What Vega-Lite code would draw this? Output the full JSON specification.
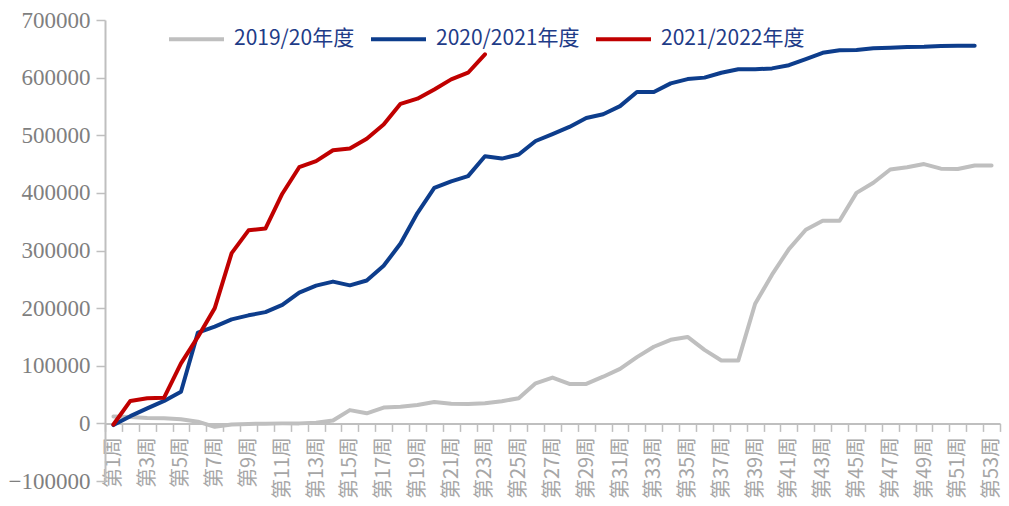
{
  "$schema": "https://vega.github.io/schema/vega-lite/v6.json",
  "width": 895,
  "height": 461,
  "autosize": {"type": "none"},
  "padding": {"left": 105, "top": 20, "right": 9, "bottom": 25},
  "background": "white",
  "config": {"view": {"stroke": null}},
  "data": {"values": [
    {"season": "2019/20年度", "week": 1, "value": 12000},
    {"season": "2019/20年度", "week": 2, "value": 11000},
    {"season": "2019/20年度", "week": 3, "value": 9500},
    {"season": "2019/20年度", "week": 4, "value": 9000},
    {"season": "2019/20年度", "week": 5, "value": 7000},
    {"season": "2019/20年度", "week": 6, "value": 3000},
    {"season": "2019/20年度", "week": 7, "value": -6000},
    {"season": "2019/20年度", "week": 8, "value": -2000},
    {"season": "2019/20年度", "week": 9, "value": -1000},
    {"season": "2019/20年度", "week": 10, "value": -500},
    {"season": "2019/20年度", "week": 11, "value": 0},
    {"season": "2019/20年度", "week": 12, "value": 0},
    {"season": "2019/20年度", "week": 13, "value": 1000},
    {"season": "2019/20年度", "week": 14, "value": 5000},
    {"season": "2019/20年度", "week": 15, "value": 23000},
    {"season": "2019/20年度", "week": 16, "value": 17500},
    {"season": "2019/20年度", "week": 17, "value": 27500},
    {"season": "2019/20年度", "week": 18, "value": 29000},
    {"season": "2019/20年度", "week": 19, "value": 32000},
    {"season": "2019/20年度", "week": 20, "value": 37000},
    {"season": "2019/20年度", "week": 21, "value": 34000},
    {"season": "2019/20年度", "week": 22, "value": 33500},
    {"season": "2019/20年度", "week": 23, "value": 35000},
    {"season": "2019/20年度", "week": 24, "value": 38500},
    {"season": "2019/20年度", "week": 25, "value": 43500},
    {"season": "2019/20年度", "week": 26, "value": 69500},
    {"season": "2019/20年度", "week": 27, "value": 79500},
    {"season": "2019/20年度", "week": 28, "value": 68500},
    {"season": "2019/20年度", "week": 29, "value": 68500},
    {"season": "2019/20年度", "week": 30, "value": 81000},
    {"season": "2019/20年度", "week": 31, "value": 94500},
    {"season": "2019/20年度", "week": 32, "value": 115000},
    {"season": "2019/20年度", "week": 33, "value": 133000},
    {"season": "2019/20年度", "week": 34, "value": 145000},
    {"season": "2019/20年度", "week": 35, "value": 150000},
    {"season": "2019/20年度", "week": 36, "value": 127500},
    {"season": "2019/20年度", "week": 37, "value": 109000},
    {"season": "2019/20年度", "week": 38, "value": 109000},
    {"season": "2019/20年度", "week": 39, "value": 207500},
    {"season": "2019/20年度", "week": 40, "value": 258000},
    {"season": "2019/20年度", "week": 41, "value": 302500},
    {"season": "2019/20年度", "week": 42, "value": 336000},
    {"season": "2019/20年度", "week": 43, "value": 351500},
    {"season": "2019/20年度", "week": 44, "value": 351500},
    {"season": "2019/20年度", "week": 45, "value": 400000},
    {"season": "2019/20年度", "week": 46, "value": 417500},
    {"season": "2019/20年度", "week": 47, "value": 440500},
    {"season": "2019/20年度", "week": 48, "value": 444500},
    {"season": "2019/20年度", "week": 49, "value": 450000},
    {"season": "2019/20年度", "week": 50, "value": 442000},
    {"season": "2019/20年度", "week": 51, "value": 441500},
    {"season": "2019/20年度", "week": 52, "value": 447500},
    {"season": "2019/20年度", "week": 53, "value": 447500},
    {"season": "2020/2021年度", "week": 1, "value": -3000},
    {"season": "2020/2021年度", "week": 2, "value": 12500},
    {"season": "2020/2021年度", "week": 3, "value": 26000},
    {"season": "2020/2021年度", "week": 4, "value": 39000},
    {"season": "2020/2021年度", "week": 5, "value": 55000},
    {"season": "2020/2021年度", "week": 6, "value": 157500},
    {"season": "2020/2021年度", "week": 7, "value": 168000},
    {"season": "2020/2021年度", "week": 8, "value": 180500},
    {"season": "2020/2021年度", "week": 9, "value": 187500},
    {"season": "2020/2021年度", "week": 10, "value": 193000},
    {"season": "2020/2021年度", "week": 11, "value": 205500},
    {"season": "2020/2021年度", "week": 12, "value": 227000},
    {"season": "2020/2021年度", "week": 13, "value": 239000},
    {"season": "2020/2021年度", "week": 14, "value": 246000},
    {"season": "2020/2021年度", "week": 15, "value": 239500},
    {"season": "2020/2021年度", "week": 16, "value": 248000},
    {"season": "2020/2021年度", "week": 17, "value": 273500},
    {"season": "2020/2021年度", "week": 18, "value": 312000},
    {"season": "2020/2021年度", "week": 19, "value": 365000},
    {"season": "2020/2021年度", "week": 20, "value": 408500},
    {"season": "2020/2021年度", "week": 21, "value": 420000},
    {"season": "2020/2021年度", "week": 22, "value": 429000},
    {"season": "2020/2021年度", "week": 23, "value": 463500},
    {"season": "2020/2021年度", "week": 24, "value": 459500},
    {"season": "2020/2021年度", "week": 25, "value": 466500},
    {"season": "2020/2021年度", "week": 26, "value": 490000},
    {"season": "2020/2021年度", "week": 27, "value": 502000},
    {"season": "2020/2021年度", "week": 28, "value": 514500},
    {"season": "2020/2021年度", "week": 29, "value": 530000},
    {"season": "2020/2021年度", "week": 30, "value": 536500},
    {"season": "2020/2021年度", "week": 31, "value": 550500},
    {"season": "2020/2021年度", "week": 32, "value": 575000},
    {"season": "2020/2021年度", "week": 33, "value": 575000},
    {"season": "2020/2021年度", "week": 34, "value": 590000},
    {"season": "2020/2021年度", "week": 35, "value": 597500},
    {"season": "2020/2021年度", "week": 36, "value": 600000},
    {"season": "2020/2021年度", "week": 37, "value": 608500},
    {"season": "2020/2021年度", "week": 38, "value": 614500},
    {"season": "2020/2021年度", "week": 39, "value": 614500},
    {"season": "2020/2021年度", "week": 40, "value": 616000},
    {"season": "2020/2021年度", "week": 41, "value": 621500},
    {"season": "2020/2021年度", "week": 42, "value": 632000},
    {"season": "2020/2021年度", "week": 43, "value": 643000},
    {"season": "2020/2021年度", "week": 44, "value": 647500},
    {"season": "2020/2021年度", "week": 45, "value": 648000},
    {"season": "2020/2021年度", "week": 46, "value": 651000},
    {"season": "2020/2021年度", "week": 47, "value": 652000},
    {"season": "2020/2021年度", "week": 48, "value": 653000},
    {"season": "2020/2021年度", "week": 49, "value": 653500},
    {"season": "2020/2021年度", "week": 50, "value": 655000},
    {"season": "2020/2021年度", "week": 51, "value": 655500},
    {"season": "2020/2021年度", "week": 52, "value": 655500},
    {"season": "2021/2022年度", "week": 1, "value": -2000},
    {"season": "2021/2022年度", "week": 2, "value": 39000},
    {"season": "2021/2022年度", "week": 3, "value": 43500},
    {"season": "2021/2022年度", "week": 4, "value": 44500},
    {"season": "2021/2022年度", "week": 5, "value": 104000},
    {"season": "2021/2022年度", "week": 6, "value": 150000},
    {"season": "2021/2022年度", "week": 7, "value": 200000},
    {"season": "2021/2022年度", "week": 8, "value": 295500},
    {"season": "2021/2022年度", "week": 9, "value": 335000},
    {"season": "2021/2022年度", "week": 10, "value": 338000},
    {"season": "2021/2022年度", "week": 11, "value": 398500},
    {"season": "2021/2022年度", "week": 12, "value": 444500},
    {"season": "2021/2022年度", "week": 13, "value": 455000},
    {"season": "2021/2022年度", "week": 14, "value": 474000},
    {"season": "2021/2022年度", "week": 15, "value": 477000},
    {"season": "2021/2022年度", "week": 16, "value": 494000},
    {"season": "2021/2022年度", "week": 17, "value": 518500},
    {"season": "2021/2022年度", "week": 18, "value": 554500},
    {"season": "2021/2022年度", "week": 19, "value": 563500},
    {"season": "2021/2022年度", "week": 20, "value": 579500},
    {"season": "2021/2022年度", "week": 21, "value": 597000},
    {"season": "2021/2022年度", "week": 22, "value": 608500},
    {"season": "2021/2022年度", "week": 23, "value": 640500}
  ]},
  "mark": {"type": "line", "strokeWidth": 4, "strokeJoin": "round", "strokeCap": "round"},
  "encoding": {
    "x": {
      "field": "week",
      "type": "ordinal",
      "bandPosition": 0.5,
      "scale": {"type": "band", "paddingInner": 0, "paddingOuter": 0},
      "axis": {
        "title": null,
        "offset": -57.6,
        "tickBand": "extent",
        "labelAngle": -90,
        "labelExpr": "datum.value % 2 == 1 ? '第' + datum.value + '周' : ''",
        "labelFont": "Noto Sans CJK SC",
        "labelFontSize": 20,
        "labelColor": "#a6a6a6",
        "labelPadding": 5,
        "labelBound": false,
        "labelOverlap": false,
        "tickSize": 8,
        "tickWidth": 1.5,
        "tickColor": "#bfbfbf",
        "domainColor": "#bfbfbf",
        "domainWidth": 2,
        "grid": false
      }
    },
    "y": {
      "field": "value",
      "type": "quantitative",
      "scale": {"domain": [-100000, 700000], "nice": false, "zero": false},
      "axis": {
        "title": null,
        "values": [-100000, 0, 100000, 200000, 300000, 400000, 500000, 600000, 700000],
        "format": "d",
        "labelFont": "Liberation Serif",
        "labelFontSize": 23,
        "labelColor": "#7f7f7f",
        "labelPadding": 6,
        "tickSize": 9,
        "tickWidth": 1.5,
        "tickColor": "#bfbfbf",
        "domainColor": "#bfbfbf",
        "domainWidth": 2,
        "grid": false
      }
    },
    "stroke": {
      "field": "season",
      "type": "nominal",
      "scale": {
        "domain": ["2019/20年度", "2020/2021年度", "2021/2022年度"],
        "range": ["#bfbfbf", "#0d3d8c", "#c00000"]
      },
      "legend": {
        "title": null,
        "orient": "none",
        "legendX": 62,
        "legendY": -10.5,
        "direction": "horizontal",
        "padding": 0,
        "symbolType": "stroke",
        "symbolSize": 3025,
        "symbolStrokeWidth": 4,
        "labelFont": "Noto Sans CJK SC",
        "labelFontSize": 21,
        "labelColor": "#1f3c88",
        "labelOffset": 8,
        "labelLimit": 0,
        "columnPadding": 8
      }
    }
  }
}
